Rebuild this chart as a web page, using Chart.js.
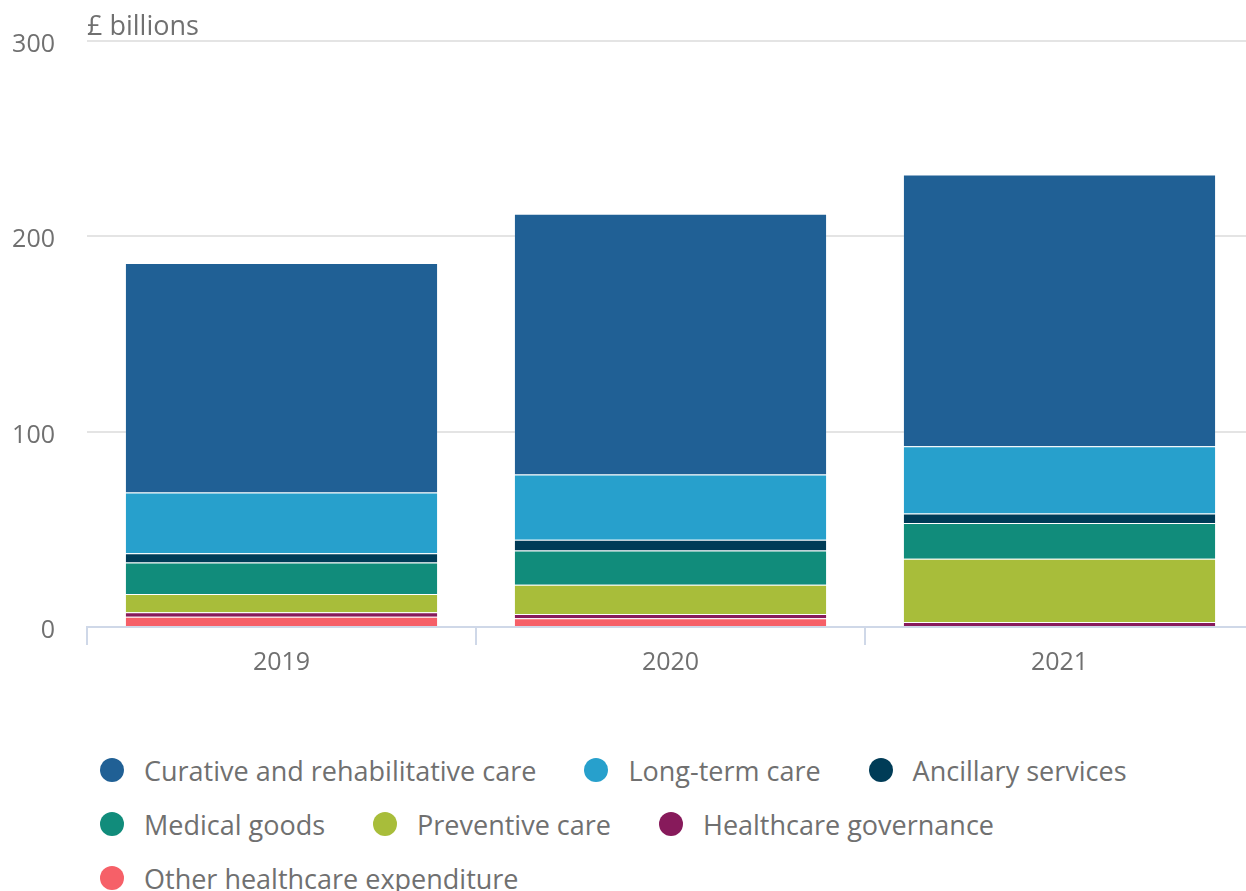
<!DOCTYPE html>
<html>
<head>
<meta charset="utf-8">
<script src="https://cdn.jsdelivr.net/npm/chart.js@4/dist/chart.umd.min.js"></script>
<style>
  html, body { margin: 0; padding: 0; background: #fff; overflow: hidden; }
  #wrap { width: 1254px; height: 729px; position: relative; }
  #legend-health {
    position: absolute; top: 743px; left: 0;
    width: 1246px; box-sizing: border-box; padding-left: 100px;
    margin: 0; list-style: none;
    display: flex; flex-wrap: wrap;
    font: 27px 'Open Sans', sans-serif; color: #707070;
  }
  #legend-health li { display: flex; align-items: center; height: 54px; margin-right: 48px; white-space: nowrap; }
  #legend-health .dot { width: 24px; height: 24px; border-radius: 50%; margin-right: 20px; flex: none; }
</style>
</head>
<body>
<div id="wrap"><canvas id="chart-health"></canvas></div>
<ul id="legend-health"></ul>
<script>
// Healthcare expenditure by function, £ billions
const years = ['2019', '2020', '2021'];
const curative = [117.4, 133.5, 139.2];
const longTerm = [31.1, 33.4, 34.4];
const ancillary = [4.8, 5.5, 4.8];
const medicalGoods = [16.1, 17.6, 18.3];
const preventive = [9.4, 14.9, 32.4];
const governance = [2.2, 2.2, 2.6];
const otherSpend = [5.3, 4.5, 0];
const yTicks = [0, 100, 200, 300];

const textColor = '#707070';
const axisColor = '#cfd8e8';
const gridColor = '#e4e4e4';
const fontFamily = "'Open Sans', sans-serif";

// stacked bottom-up; legend lists them top-down
const series = [
  { label: 'Other healthcare expenditure', data: otherSpend, color: '#f66068' },
  { label: 'Healthcare governance', data: governance, color: '#871a5b' },
  { label: 'Preventive care', data: preventive, color: '#a8bd3a' },
  { label: 'Medical goods', data: medicalGoods, color: '#118c7b' },
  { label: 'Ancillary services', data: ancillary, color: '#003c57' },
  { label: 'Long-term care', data: longTerm, color: '#27a0cc' },
  { label: 'Curative and rehabilitative care', data: curative, color: '#206095' }
];

// unit label above the y axis
const unitLabel = {
  id: 'unitLabel',
  afterDraw(chart) {
    const { ctx, chartArea } = chart;
    ctx.save();
    ctx.font = `27px ${fontFamily}`;
    ctx.fillStyle = textColor;
    ctx.textBaseline = 'middle';
    ctx.textAlign = 'left';
    ctx.fillText('£ billions', chartArea.left, chartArea.top - 14);
    ctx.restore();
  }
};

// html legend built from the chart's own legend items
const htmlLegend = {
  id: 'htmlLegend',
  afterUpdate(chart) {
    const list = document.getElementById('legend-health');
    list.innerHTML = '';
    const items = chart.options.plugins.legend.labels.generateLabels(chart).reverse();
    items.forEach(item => {
      const li = document.createElement('li');
      const dot = document.createElement('span');
      dot.className = 'dot';
      dot.style.background = item.fillStyle;
      li.appendChild(dot);
      li.appendChild(document.createTextNode(item.text));
      list.appendChild(li);
    });
  }
};

new Chart(document.getElementById('chart-health'), {
  type: 'bar',
  data: {
    labels: years,
    datasets: series.map(s => ({
      label: s.label,
      data: s.data,
      backgroundColor: s.color,
      borderColor: 'rgba(255, 255, 255, 0.15)',
      borderWidth: 1,
      barPercentage: 0.805,
      categoryPercentage: 1
    }))
  },
  options: {
    responsive: true,
    maintainAspectRatio: false,
    animation: false,
    layout: { padding: { left: 10, top: 41, right: 0, bottom: 0 } },
    plugins: {
      tooltip: { enabled: false },
      legend: { display: false }
    },
    scales: {
      x: {
        stacked: true,
        border: { display: true, color: axisColor, width: 2 },
        grid: {
          offset: true,
          drawOnChartArea: false,
          color: axisColor,
          lineWidth: 2,
          tickLength: 18
        },
        ticks: {
          color: textColor,
          padding: 3,
          font: { family: fontFamily, size: 25 }
        },
        afterFit(scale) { scale.height = 102; }
      },
      y: {
        stacked: true,
        min: 0,
        max: 300,
        border: { display: false },
        grid: { color: gridColor, lineWidth: 2, drawTicks: false },
        afterBuildTicks(scale) { scale.ticks = yTicks.map(v => ({ value: v })); },
        ticks: {
          color: textColor,
          padding: 32,
          labelOffset: 4,
          font: { family: fontFamily, size: 25 }
        },
        afterFit(scale) {
          scale.width = 77;
          // the tick padding is horizontal spacing only
          scale.paddingTop = 0;
          scale.paddingBottom = 0;
        }
      }
    }
  },
  plugins: [unitLabel, htmlLegend]
});
</script>
</body>
</html>
